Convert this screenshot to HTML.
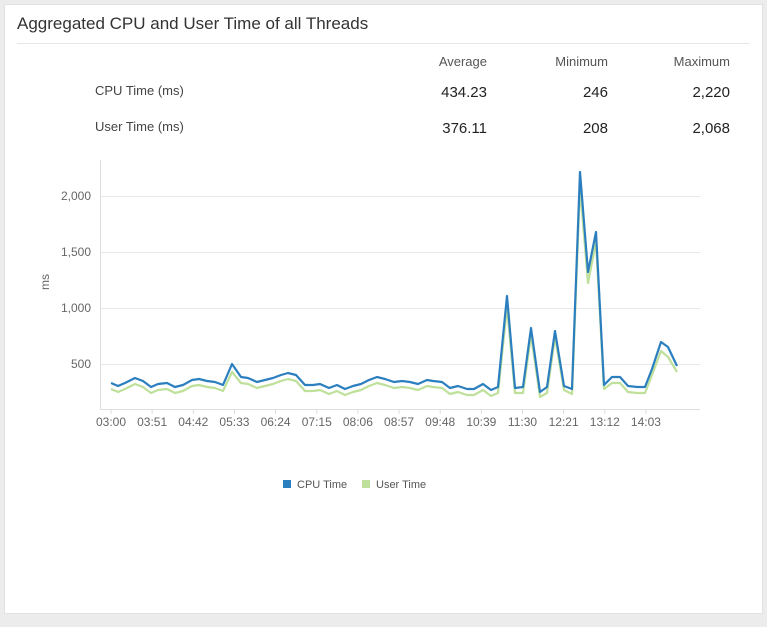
<!DOCTYPE html>
<html><head><meta charset="utf-8"><style>
body{margin:0;width:767px;height:627px;background:#ececec;font-family:"Liberation Sans",sans-serif;position:relative;overflow:hidden}
.card{position:absolute;left:4px;top:4px;width:759px;height:610px;background:#fff;border:1px solid #e2e2e2;box-sizing:border-box}
.t{position:absolute;white-space:nowrap}
</style></head><body>
<div class="card"></div>
<div class="t" style="left:17px;top:14px;font-size:17px;color:#333">Aggregated CPU and User Time of all Threads</div>
<div style="position:absolute;left:17px;top:43px;width:733px;height:1px;background:#e6e6e6"></div>
<div class="t" style="right:280px;top:54px;font-size:13px;color:#555">Average</div>
<div class="t" style="right:159px;top:54px;font-size:13px;color:#555">Minimum</div>
<div class="t" style="right:37px;top:54px;font-size:13px;color:#555">Maximum</div>
<div class="t" style="left:95px;top:83px;font-size:13px;color:#444">CPU Time (ms)</div>
<div class="t" style="left:95px;top:119px;font-size:13px;color:#444">User Time (ms)</div>
<div class="t" style="right:280px;top:84px;font-size:15px;color:#222">434.23</div>
<div class="t" style="right:159px;top:84px;font-size:15px;color:#222">246</div>
<div class="t" style="right:37px;top:84px;font-size:15px;color:#222">2,220</div>
<div class="t" style="right:280px;top:120px;font-size:15px;color:#222">376.11</div>
<div class="t" style="right:159px;top:120px;font-size:15px;color:#222">208</div>
<div class="t" style="right:37px;top:120px;font-size:15px;color:#222">2,068</div>
<svg id="s" width="767" height="627" style="position:absolute;left:0;top:0" font-family="Liberation Sans, sans-serif">
<g stroke="#e8e8e8" stroke-width="1">
<line x1="100" y1="196.5" x2="700" y2="196.5"/><line x1="100" y1="252.5" x2="700" y2="252.5"/>
<line x1="100" y1="308.5" x2="700" y2="308.5"/><line x1="100" y1="364.5" x2="700" y2="364.5"/>
</g>
<line x1="100.5" y1="160" x2="100.5" y2="409" stroke="#ddd"/>
<line x1="100" y1="409.5" x2="700" y2="409.5" stroke="#ddd"/>
<g font-size="12" fill="#666" text-anchor="end">
<text x="91" y="200">2,000</text><text x="91" y="256">1,500</text><text x="91" y="312">1,000</text><text x="91" y="368">500</text>
</g>
<text x="0" y="0" font-size="12" fill="#666" transform="translate(49,290) rotate(-90)">ms</text>
<g id="xl" font-size="12" fill="#666" text-anchor="middle"></g>
<polyline id="u" fill="none" stroke="#bfe09a" stroke-width="2.2" stroke-linejoin="round"/>
<polyline id="c" fill="none" stroke="#2b7fbf" stroke-width="2.2" stroke-linejoin="round"/>
<rect x="283" y="480" width="8" height="8" fill="#2b7fbf"/>
<text x="297" y="488" font-size="11" fill="#555">CPU Time</text>
<rect x="362" y="480" width="8" height="8" fill="#bfe09a"/>
<text x="376" y="488" font-size="11" fill="#555">User Time</text>
</svg>
<script>
var c=[[111,383],[118,386],[125,383],[135,378],[143,381],[151,387],[158,384],[167,383],[175,387],[183,385],[192,380],[199,379],[207,381],[215,382],[223,385],[232,364],[241,377],[248,378],[257,382],[265,380],[273,378],[281,375],[288,373],[296,375],[305,385],[313,385],[320,384],[329,388],[337,385],[345,389],[353,386],[361,384],[369,380],[377,377],[385,379],[394,382],[402,381],[410,382],[418,384],[427,380],[433,381],[442,382],[450,388],[458,386],[467,389],[474,389],[483,384],[491,390],[498,387],[507,296],[515,388],[523,387],[531,328],[540,392],[547,387],[555,331],[564,386],[572,389],[580,172],[588,272],[596,232],[604,385],[612,377],[620,377],[628,386],[637,387],[645,387],[652,369],[661,342],[668,347],[677,366]];
var sp={232:372,507:307,531:335,555:337,580:187,588:283,596:242,661:351,668:357,677:372,515:393,523:393,540:397,564:390,572:394,604:389};
var u=c.map(function(p){return [p[0], sp[p[0]]!==undefined?sp[p[0]]:p[1]+6];});
function s(a){return a.map(function(p){return p.join(',')}).join(' ')}
document.getElementById('c').setAttribute('points',s(c));
document.getElementById('u').setAttribute('points',s(u));
var L=["03:00","03:51","04:42","05:33","06:24","07:15","08:06","08:57","09:48","10:39","11:30","12:21","13:12","14:03"],h='';
for(var i=0;i<L.length;i++){var x=111+i*41.15;h+='<line x1="'+x+'" y1="409" x2="'+x+'" y2="414" stroke="#ddd"/><text x="'+x+'" y="426">'+L[i]+'</text>';}
document.getElementById('xl').innerHTML=h;
</script>
</body></html>
